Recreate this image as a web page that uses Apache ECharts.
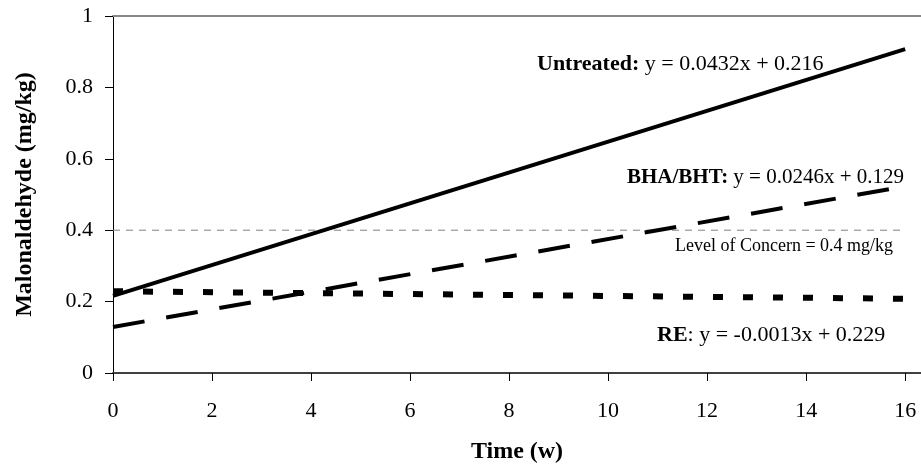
<!DOCTYPE html>
<html>
<head>
    <meta charset="utf-8">
    <title>Malonaldehyde</title>
    <script src="https://cdn.jsdelivr.net/npm/echarts@6/dist/echarts.min.js"></script>
</head>
<body style="margin:0;">
    <div id='main' style='width: 921px;height:466px;'></div>
    <script>
        // data (line endpoints at t=0 and t=16)
        var timePts = [0, 16];
        var untreated = [0.216, 0.907];
        var bhaBht = [0.129, 0.523];
        var re = [0.229, 0.208];
        var concern = [0.4, 0.4];
        var xTicks = [0, 2, 4, 6, 8, 10, 12, 14, 16];

        var serif = 'Liberation Serif';

        function pairs(ys) {
            return timePts.map(function (t, i) { return [t, ys[i]]; });
        }

        // text placed by its vertical centre
        function note(x, y, bold, rest, size) {
            return {
                type: 'text', left: x, top: y - Math.round(size * 0.58),
                style: {
                    text: (bold ? '{b|' + bold + '}' : '') + rest,
                    fontFamily: serif, fontSize: size, fill: '#000',
                    rich: { b: { fontFamily: serif, fontSize: size, fontWeight: 'bold', fill: '#000' } }
                }
            };
        }

        var myChart = echarts.init(document.getElementById('main'));
        myChart.setOption({
            animation: false,
            backgroundColor: '#fff',
            grid: { left: 113, right: 0, top: 16, bottom: 93, containLabel: false, outerBoundsMode: 'none' },
            xAxis: [{
                type: 'value', min: 0, max: 16.32,
                name: 'Time (w)', nameLocation: 'middle', nameGap: 67,
                nameTextStyle: { fontFamily: serif, fontSize: 24, fontWeight: 'bold', color: '#000' },
                axisLine: { lineStyle: { color: '#404040', width: 2 } },
                axisTick: { length: 8, customValues: xTicks, lineStyle: { color: '#000' } },
                axisLabel: { customValues: xTicks, margin: 27, fontFamily: serif, fontSize: 22, color: '#000' },
                splitLine: { show: false }
            }, {
                type: 'value', position: 'top', min: 0, max: 16.32,
                axisLine: { show: true, lineStyle: { color: '#888', width: 2 } },
                axisTick: { show: false }, axisLabel: { show: false }, splitLine: { show: false }
            }],
            yAxis: {
                type: 'value', min: 0, max: 1, interval: 0.2,
                name: 'Malonaldehyde (mg/kg)', nameLocation: 'middle', nameGap: 76,
                nameTextStyle: { fontFamily: serif, fontSize: 24, fontWeight: 'bold', color: '#000' },
                axisLine: { show: true, lineStyle: { color: '#000', width: 1 } },
                axisTick: { show: true, length: 8, lineStyle: { color: '#000' } },
                axisLabel: { margin: 20, fontFamily: serif, fontSize: 22, color: '#000' },
                splitLine: { show: false }
            },
            series: [{
                name: 'Level of Concern', type: 'line', data: pairs(concern), symbol: 'none',
                lineStyle: { color: '#808080', width: 1, type: [7, 6] }
            }, {
                name: 'Untreated', type: 'line', data: pairs(untreated), symbol: 'none',
                lineStyle: { color: '#000', width: 4 }
            }, {
                name: 'BHA/BHT', type: 'line', data: pairs(bhaBht), symbol: 'none',
                lineStyle: { color: '#000', width: 4, type: [32, 22], cap: 'butt' }
            }, {
                name: 'RE', type: 'line', data: pairs(re), symbol: 'none',
                lineStyle: { color: '#000', width: 6, type: [10, 20], cap: 'butt' }
            }],
            graphic: [
                note(537, 66, 'Untreated:', ' y = 0.0432x + 0.216', 22),
                note(627, 179, 'BHA/BHT:', ' y = 0.0246x + 0.129', 21),
                note(675, 247, '', 'Level of Concern = 0.4 mg/kg', 18),
                note(657, 337, 'RE', ': y = -0.0013x + 0.229', 22)
            ]
        });
    </script>
</body>
</html>
